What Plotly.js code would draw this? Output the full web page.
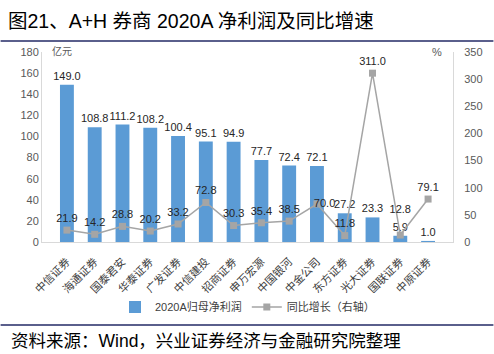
<!DOCTYPE html>
<html><head><meta charset="utf-8">
<script src="https://cdn.plot.ly/plotly-3.0.1.min.js"></script>
<style>html,body{margin:0;padding:0;background:#fff}#chart{width:494px;height:354px}</style>
</head><body><div id="chart"></div>
<script>
const categories = ["中信证券","海通证券","国泰君安","华泰证券","广发证券","中信建投","招商证券","申万宏源","中国银河","中金公司","东方证券","光大证券","国联证券","中原证券"];
const profit = [149.0,108.8,111.2,108.2,100.4,95.1,94.9,77.7,72.4,72.1,27.2,23.3,5.9,1.0];
const growth = [21.9,14.2,28.8,20.2,33.2,72.8,30.3,35.4,38.5,70.0,11.8,311.0,12.8,79.1];
const tickVals = [0,20,40,60,80,100,120,140,160,180];
const tickVals2 = [0,50,100,150,200,250,300,350];

const F = "Liberation Sans, Arial, Noto Sans CJK SC, sans-serif";
const L = 41.5, R = 453.5, T = 52, B = 242, W = 494, H = 354;
const pw = R - L, ph = B - T;
const px = x => (x - L) / pw;
const py = y => (B - y) / ph;

// label placement quirks of the reference
const growthText = growth.map((v,i)=> {
  const c = categories[i], s = v.toFixed(1);
  if (c==='国联证券') return s+'<br> ';
  if (c==='中金公司') return '&nbsp;&nbsp;&nbsp;&nbsp;&nbsp;'+s;
  return s;
});
const growthPos = categories.map(c => c==='中金公司' ? 'middle center' : 'top center');

const traces = [
  {type:'bar', name:'2020A归母净利润', x:categories, y:profit, marker:{color:'#5B9BD5'},
   text:profit.map(v=>v.toFixed(1)), textposition:'outside', cliponaxis:false, constraintext:'none',
   textfont:{family:F,size:11,color:'#262626'}, hoverinfo:'none'},
  {type:'scatter', mode:'lines+markers+text', name:'同比增长（右轴）', x:categories, y:growth, yaxis:'y2',
   line:{color:'#A5A5A5',width:1.5}, marker:{symbol:'square',size:7,color:'#A5A5A5'},
   text:growthText, textposition:growthPos, cliponaxis:false,
   textfont:{family:F,size:11,color:'#262626'}, hoverinfo:'none'}
];

const layout = {
  width:W, height:H, paper_bgcolor:'#fff', plot_bgcolor:'#fff',
  margin:{l:L, r:W-R, t:T, b:H-B, pad:0},
  font:{family:F, size:11, color:'#595959'},
  title:{text:'图21、A+H 券商 2020A 净利润及同比增速', font:{family:F,size:19.5,color:'#000'},
         xref:'container', yref:'container', x:8/W, xanchor:'left', y:1-21/H, yanchor:'middle'},
  bargap:0.5,
  showlegend:true,
  legend:{orientation:'h', x:0.5, xanchor:'center', y:py(307), yanchor:'middle',
          font:{family:F,size:11,color:'#404040'}, traceorder:'normal', itemwidth:30},
  xaxis:{type:'category', tickangle:-45, showline:true, linecolor:'#D9D9D9', linewidth:1,
         ticks:'', ticklabelstandoff:8, tickfont:{family:F,size:11,color:'#404040'}, showgrid:false, zeroline:false, fixedrange:true},
  yaxis:{range:[0,180], tickvals:tickVals, showline:true, linecolor:'#D9D9D9', showgrid:false, zeroline:false,
         ticks:'', tickfont:{family:F,size:11,color:'#595959'}, fixedrange:true},
  yaxis2:{range:[0,350], tickvals:tickVals2, overlaying:'y', side:'right', showline:true, linecolor:'#D9D9D9',
          showgrid:false, zeroline:false, ticks:'', ticklabelstandoff:8, tickfont:{family:F,size:11,color:'#595959'}, fixedrange:true},
  annotations:[
    {text:'亿元', xref:'paper', yref:'paper', x:px(50), y:py(51), xanchor:'left', yanchor:'middle', showarrow:false,
     font:{family:F,size:10,color:'#595959'}},
    {text:'%', xref:'paper', yref:'paper', x:px(444), y:py(52), xanchor:'right', yanchor:'middle', showarrow:false,
     font:{family:F,size:11,color:'#595959'}},
    {text:'资料来源：Wind，兴业证券经济与金融研究院整理', xref:'paper', yref:'paper', x:px(8), y:py(341),
     xanchor:'left', yanchor:'middle', showarrow:false, font:{family:F,size:17.5,color:'#000'}}
  ],
  shapes:[
    {type:'line', xref:'paper', yref:'paper', x0:px(0), x1:px(W), y0:py(41), y1:py(41), line:{color:'#5A5F8C',width:2}},
    {type:'line', xref:'paper', yref:'paper', x0:px(0), x1:px(W), y0:py(325), y1:py(325), line:{color:'#5A5F8C',width:2}}
  ]
};
Plotly.newPlot('chart', traces, layout, {displayModeBar:false, staticPlot:true});
</script></body></html>
